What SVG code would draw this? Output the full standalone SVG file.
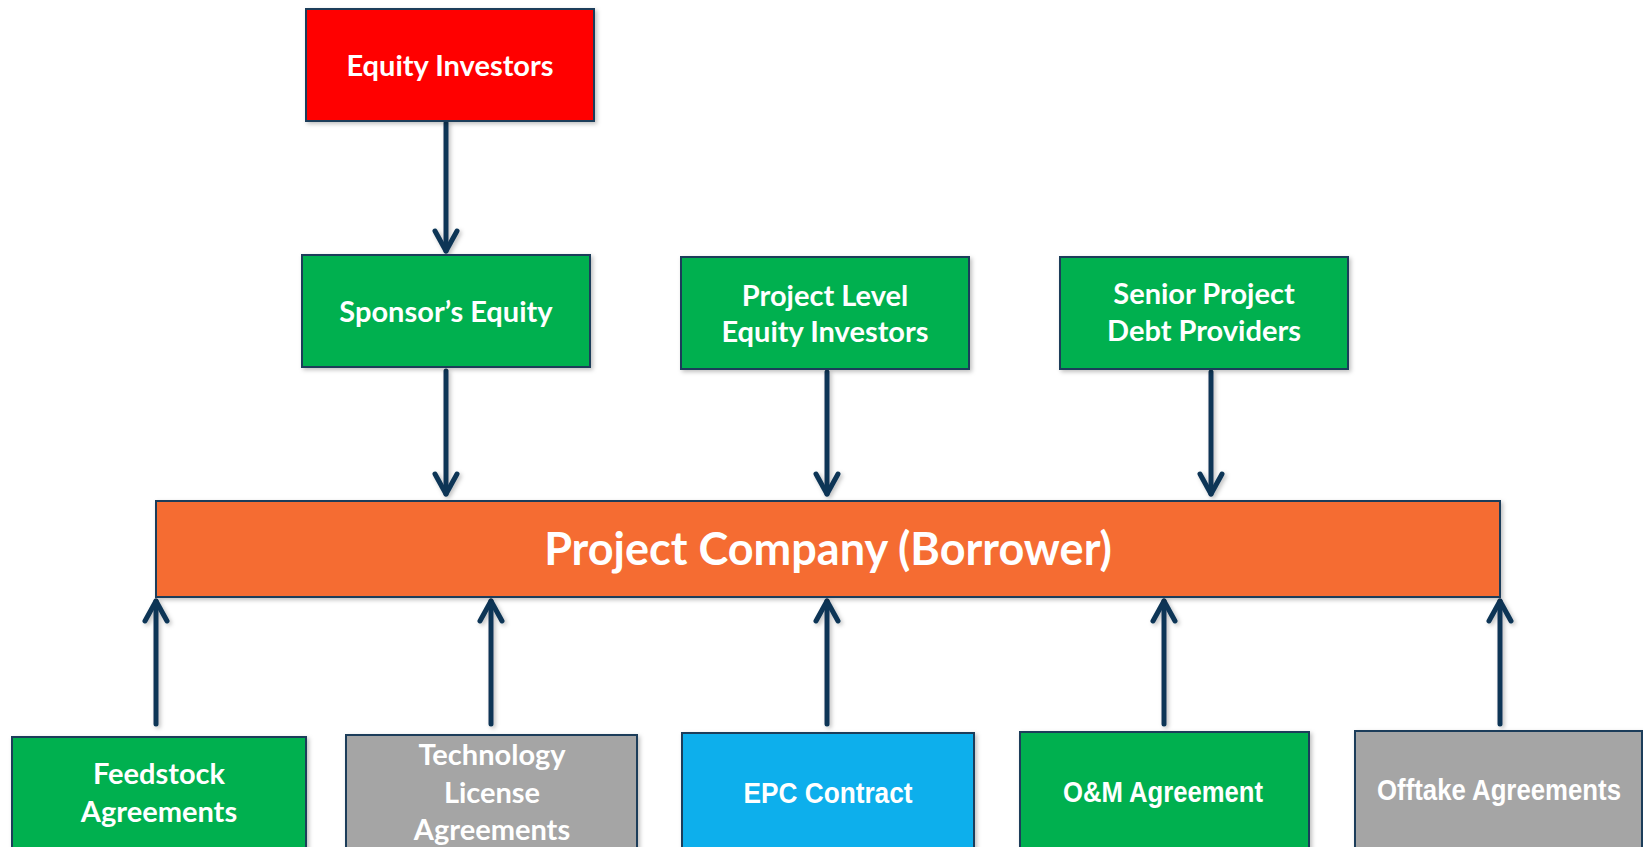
<svg xmlns="http://www.w3.org/2000/svg" width="1643" height="847" viewBox="0 0 1643 847">
  <style>
    .box { stroke: #1F3C5A; stroke-width: 2; filter: url(#shadow); }
    .red { fill: #FF0000; }
    .green { fill: #00B050; }
    .orange { fill: #F56C33; }
    .blue { fill: #0BAFEC; }
    .gray { fill: #A5A5A5; }
    .lbl { font-family: Lato, "Open Sans", "Liberation Sans", sans-serif; font-weight: bold; fill: #FFFFFF; text-anchor: middle; font-size: 29px; }
    .lbl2 { font-family: "Liberation Sans", Arial, sans-serif; font-weight: bold; fill: #FFFFFF; text-anchor: middle; font-size: 29px; }
    .big { font-size: 45px; }
    .arrow { stroke: #0E3556; stroke-width: 5; fill: none; stroke-linecap: round; marker-end: url(#chev); }
  </style>
  <defs>
    <filter id="shadow" filterUnits="userSpaceOnUse" x="0" y="0" width="1643" height="847">
      <feDropShadow dx="2" dy="2" stdDeviation="2" flood-color="#000000" flood-opacity="0.25"/>
    </filter>
    <marker id="chev" markerUnits="userSpaceOnUse" markerWidth="40" markerHeight="40" viewBox="-30 -20 40 40" refX="0" refY="0" orient="auto" overflow="visible">
      <path d="M -20 -11 L 0 0 L -20 11" fill="none" stroke="#0E3556" stroke-width="5" stroke-linecap="round" stroke-linejoin="round"/>
    </marker>
  </defs>

  <rect width="1643" height="847" fill="#FFFFFF"/>

  <!-- connectors -->
  <g id="connectors" filter="url(#shadow)">
    <path class="arrow" d="M 446 123 L 446 251"/>
    <path class="arrow" d="M 446 371 L 446 494"/>
    <path class="arrow" d="M 827 372 L 827 494"/>
    <path class="arrow" d="M 1211 372 L 1211 494"/>
    <path class="arrow" d="M 156 724 L 156 601"/>
    <path class="arrow" d="M 491 724 L 491 601"/>
    <path class="arrow" d="M 827 724 L 827 601"/>
    <path class="arrow" d="M 1164 724 L 1164 601"/>
    <path class="arrow" d="M 1500 724 L 1500 601"/>
  </g>

  <!-- top tier -->
  <g id="equity-investors">
    <rect class="box red" x="306" y="9" width="288" height="112"/>
    <text class="lbl" x="450" y="76">Equity Investors</text>
  </g>

  <g id="sponsors-equity">
    <rect class="box green" x="302" y="255" width="288" height="112"/>
    <text class="lbl" x="446" y="322">Sponsor’s Equity</text>
  </g>

  <g id="project-level-equity">
    <rect class="box green" x="681" y="257" width="288" height="112"/>
    <text class="lbl" x="825" y="306">Project Level</text>
    <text class="lbl" x="825" y="342">Equity Investors</text>
  </g>

  <g id="senior-debt">
    <rect class="box green" x="1060" y="257" width="288" height="112"/>
    <text class="lbl" x="1204" y="304">Senior Project</text>
    <text class="lbl" x="1204" y="341">Debt Providers</text>
  </g>

  <!-- borrower -->
  <g id="project-company">
    <rect class="box orange" x="156" y="501" width="1344" height="96"/>
    <text class="lbl big" x="828" y="565">Project Company (Borrower)</text>
  </g>

  <!-- contracts -->
  <g id="feedstock">
    <rect class="box green" x="12" y="737" width="294" height="130"/>
    <text class="lbl" x="159" y="784">Feedstock</text>
    <text class="lbl" x="159" y="822">Agreements</text>
  </g>

  <g id="technology-license">
    <rect class="box gray" x="346" y="735" width="291" height="130"/>
    <text class="lbl" x="492" y="765">Technology</text>
    <text class="lbl" x="492" y="803">License</text>
    <text class="lbl" x="492" y="840">Agreements</text>
  </g>

  <g id="epc-contract">
    <rect class="box blue" x="682" y="733" width="292" height="130"/>
    <text class="lbl2" x="828" y="803" textLength="169" lengthAdjust="spacingAndGlyphs">EPC Contract</text>
  </g>

  <g id="om-agreement">
    <rect class="box green" x="1020" y="732" width="289" height="130"/>
    <text class="lbl2" x="1163" y="802" textLength="200" lengthAdjust="spacingAndGlyphs">O&amp;M Agreement</text>
  </g>

  <g id="offtake">
    <rect class="box gray" x="1355" y="731" width="287" height="130"/>
    <text class="lbl2" x="1499" y="800" style="font-size:30px" textLength="244" lengthAdjust="spacingAndGlyphs">Offtake Agreements</text>
  </g>
</svg>
